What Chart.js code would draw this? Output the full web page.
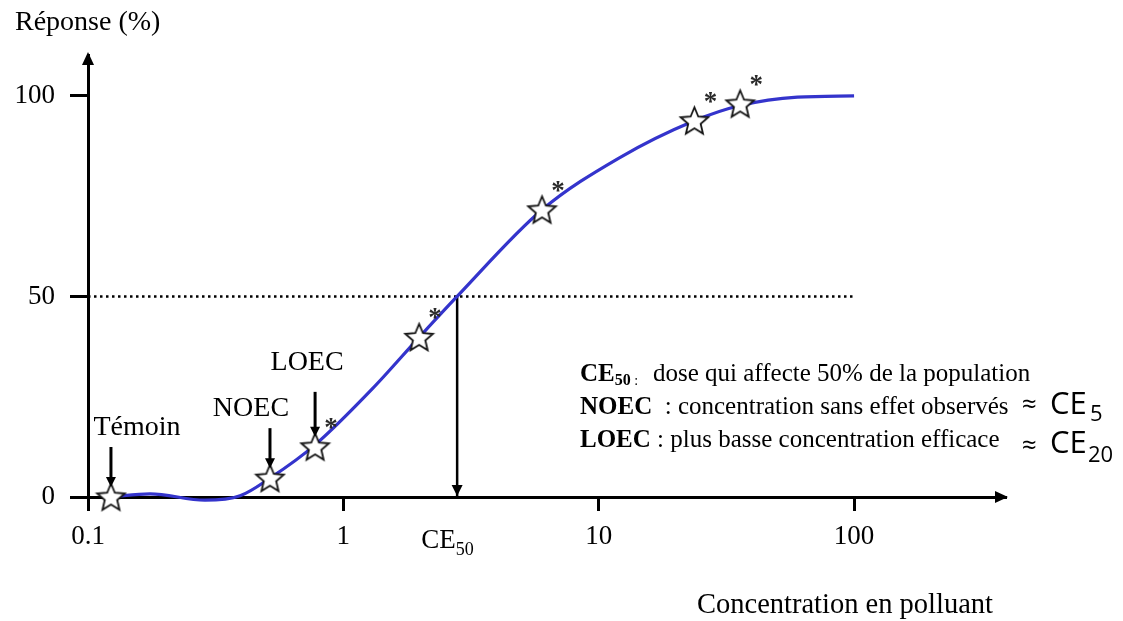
<!DOCTYPE html>
<html><head><meta charset="utf-8">
<script src="https://cdn.jsdelivr.net/npm/chart.js@4.4.1/dist/chart.umd.min.js"></script>
<style>html,body{margin:0;padding:0;background:#fff;overflow:hidden}#wrap{width:1123px;height:621px;position:relative}</style>
</head><body><div id="wrap"><canvas id="c" width="1123" height="621"></canvas></div>
<script>
// ---- data ----
const xTickValues = [0.1, 1, 10, 100];
const xTickLabels = ['0.1', '1', '10', '100'];
const yTickValues = [0, 50, 100];
const yTickLabels = ['0', '50', '100'];

const curveX = [0.123, 0.175, 0.287, 0.394, 0.516, 0.775, 1.3, 1.98, 2.79, 6.0, 12, 23.7, 35.8, 60, 100];
const curveY = [0, 0.8, -0.8, 0.3, 4.7, 13, 27, 39.8, 50, 71.6, 84.5, 93.8, 97.6, 99.7, 100];

const starX = [0.123, 0.516, 0.775, 1.98, 6.0, 23.7, 35.8];
const starY = [0, 4.7, 12.5, 39.8, 71.6, 93.8, 98.0];
const starSignificant = [false, false, true, true, true, true, true];
const starNames = ['Témoin', 'NOEC', 'LOEC'];

const ce50 = 2.79;
const halfResponse = 50;
const xMin = 0.1, xMax = 390, yMin = 0, yMax = 110.2;

// ---- styling ----
const SERIF = '"Liberation Serif", "Times New Roman", serif';
const SANS = '"Open Sans", "Noto Sans", sans-serif';
const BLUE = 'rgb(52,52,204)';

function makeStar(size) {
  const c = document.createElement('canvas');
  c.width = size; c.height = size;
  const g = c.getContext('2d');
  const cx = size / 2, cy = size / 2 + 1, R = size / 2 - 2, r = R * 0.45;
  g.beginPath();
  for (let k = 0; k < 10; k++) {
    const a = -Math.PI / 2 + k * Math.PI / 5;
    const rr = k % 2 === 0 ? R : r;
    const px = cx + rr * Math.cos(a), py = cy + rr * Math.sin(a);
    if (k === 0) g.moveTo(px, py); else g.lineTo(px, py);
  }
  g.closePath();
  g.fillStyle = '#fff'; g.fill();
  g.strokeStyle = '#111'; g.lineWidth = 1.8; g.lineJoin = 'miter'; g.stroke();
  return c;
}
const starImg = makeStar(33);

function arrowHead(ctx, x, y, dir, len, half) {
  ctx.beginPath();
  if (dir === 'down') { ctx.moveTo(x, y); ctx.lineTo(x - half, y - len); ctx.lineTo(x + half, y - len); }
  else if (dir === 'up') { ctx.moveTo(x, y); ctx.lineTo(x - half, y + len); ctx.lineTo(x + half, y + len); }
  else { ctx.moveTo(x, y); ctx.lineTo(x - len, y - half); ctx.lineTo(x - len, y + half); }
  ctx.closePath(); ctx.fill();
}

const annot = [
  { i: 0, len: 40, dx: 26, gap: 12 },
  { i: 1, len: 40, dx: -19, gap: 12 },
  { i: 2, len: 45, dx: -8, gap: 22 }
];

const deco = {
  id: 'deco',
  afterDatasetsDraw(chart) {
    const ctx = chart.ctx, a = chart.chartArea;
    const xs = chart.scales.x, ys = chart.scales.y;
    ctx.save();
    ctx.fillStyle = '#000'; ctx.strokeStyle = '#000';
    // axis arrows
    arrowHead(ctx, a.left, a.top - 3, 'up', 13, 6);
    arrowHead(ctx, a.right + 3, a.bottom, 'right', 13, 6);
    // CE50 arrow head
    arrowHead(ctx, xs.getPixelForValue(ce50), ys.getPixelForValue(0) - 1, 'down', 11, 5.5);
    // annotation arrows + labels
    const meta = chart.getDatasetMeta(0);
    ctx.lineWidth = 3;
    annot.forEach(o => {
      const p = meta.data[o.i];
      const tipY = p.y - 10;
      ctx.beginPath(); ctx.moveTo(p.x, tipY - o.len); ctx.lineTo(p.x, tipY - 6); ctx.stroke();
      arrowHead(ctx, p.x, tipY, 'down', 10, 5);
      ctx.font = '28px ' + SERIF; ctx.textAlign = 'center'; ctx.textBaseline = 'alphabetic';
      ctx.fillText(starNames[o.i], p.x + o.dx, tipY - o.len - o.gap);
    });
    // asterisks
    ctx.fillStyle = '#2a2a2a'; ctx.font = 'bold 27px ' + SERIF; ctx.textAlign = 'center';
    meta.data.forEach((p, i) => { if (starSignificant[i]) ctx.fillText('*', p.x + 16, p.y - 11); });
    ctx.restore();
  },
  afterDraw(chart) {
    const ctx = chart.ctx, xs = chart.scales.x;
    ctx.save();
    ctx.fillStyle = '#000'; ctx.textBaseline = 'alphabetic'; ctx.textAlign = 'left';
    ctx.font = '28px ' + SERIF;
    ctx.fillText('Réponse (%)', 15, 30);
    ctx.font = '28.5px ' + SERIF;
    ctx.fillText('Concentration en polluant', 697, 613);
    // CE50 tick label
    const cx = xs.getPixelForValue(ce50);
    ctx.font = '27px ' + SERIF; ctx.fillText('CE', cx - 36, 548);
    const wce = ctx.measureText('CE').width;
    ctx.font = '18px ' + SERIF; ctx.fillText('50', cx - 36 + wce, 555);
    // legend block
    let x;
    const L1 = 381, L2 = 414, L3 = 447;
    ctx.font = 'bold 25px ' + SERIF; ctx.fillText('CE', 580, L1);
    x = 580 + ctx.measureText('CE').width;
    ctx.font = 'bold 16px ' + SERIF; ctx.fillText('50', x, L1 + 4);
    x += ctx.measureText('50').width;
    ctx.font = '14px ' + SERIF; ctx.fillText(' :', x, L1 + 4);
    ctx.font = '25px ' + SERIF; ctx.fillText('dose qui affecte 50% de la population', 653, L1);

    ctx.font = 'bold 25px ' + SERIF; ctx.fillText('NOEC', 580, L2);
    x = 580 + ctx.measureText('NOEC').width;
    ctx.font = '25px ' + SERIF; ctx.fillText('  : concentration sans effet observés', x, L2);
    ctx.font = 'bold 25px ' + SERIF; ctx.fillText('LOEC', 580, L3);
    x = 580 + ctx.measureText('LOEC').width;
    ctx.font = '25px ' + SERIF; ctx.fillText(' : plus basse concentration efficace', x, L3);

    ctx.font = '26px ' + SANS; ctx.fillText('≈', 1022, L2 - 1);
    ctx.fillText('≈', 1022, L3 + 7);
    ctx.font = '31px ' + SANS; ctx.fillText('CE', 1050, L2);
    ctx.fillText('CE', 1050, L3 + 6);
    ctx.font = '22px ' + SANS; ctx.fillText('5', 1090, L2 + 7);
    ctx.fillText('20', 1088, L3 + 15);
    ctx.restore();
  }
};

new Chart(document.getElementById('c'), {
  type: 'line',
  data: {
    datasets: [
      { data: starX.map((x, i) => ({ x, y: starY[i] })), showLine: false, pointStyle: starImg,
        pointRadius: 14, order: 0, clip: false },
      { data: curveX.map((x, i) => ({ x, y: curveY[i] })), borderColor: BLUE, borderWidth: 3.2,
        cubicInterpolationMode: 'monotone', pointRadius: 0, order: 1, clip: false, fill: false },
      { data: [{ x: xMin, y: halfResponse }, { x: 100, y: halfResponse }], borderColor: '#000',
        borderWidth: 2.5, borderDash: [2.5, 3.5], pointRadius: 0, order: 2, tension: 0 },
      { data: [{ x: ce50, y: halfResponse }, { x: ce50, y: 0 }], borderColor: '#000',
        borderWidth: 2.5, pointRadius: 0, order: 2, tension: 0 }
    ]
  },
  options: {
    responsive: false, animation: false, devicePixelRatio: 1,
    layout: { padding: { top: 55, right: 118, left: 0, bottom: 0 } },
    plugins: { legend: { display: false }, tooltip: { enabled: false } },
    scales: {
      x: {
        type: 'logarithmic', position: 'bottom', min: xMin, max: xMax,
        afterBuildTicks: s => { s.ticks = xTickValues.map(v => ({ value: v })); },
        afterFit: s => { s.height = 124; },
        ticks: { callback: (v, i) => xTickLabels[i], font: { family: SERIF, size: 27 }, color: '#000',
          padding: 10, maxRotation: 0, autoSkip: false },
        grid: { display: true, drawOnChartArea: false, drawTicks: true, tickLength: 14, color: '#000', lineWidth: 3 },
        border: { display: true, color: '#000', width: 3 }
      },
      y: {
        type: 'linear', min: yMin, max: yMax,
        afterBuildTicks: s => { s.ticks = yTickValues.map(v => ({ value: v })); },
        afterFit: s => { s.width = 88; },
        ticks: { callback: (v, i) => yTickLabels[i], font: { family: SERIF, size: 27 }, color: '#000',
          padding: 15, autoSkip: false },
        grid: { display: true, drawOnChartArea: false, drawTicks: true, tickLength: 18, color: '#000', lineWidth: 3 },
        border: { display: true, color: '#000', width: 3 }
      }
    }
  },
  plugins: [deco]
});
</script></body></html>
